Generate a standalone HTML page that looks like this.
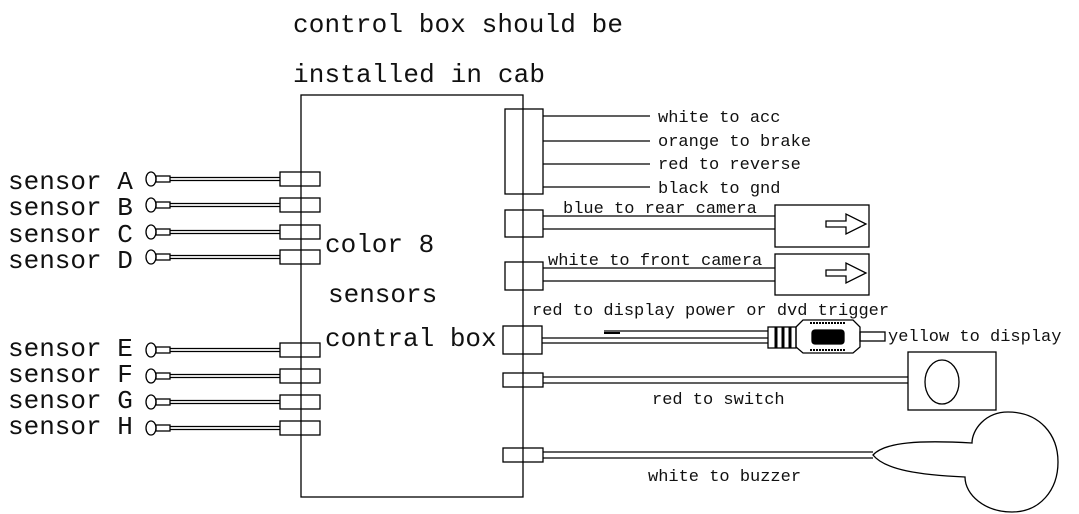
<!DOCTYPE html>
<html><head><meta charset="utf-8"><style>
html,body{margin:0;padding:0;background:#fff;}
svg{display:block}
text{font-family:"Liberation Mono","DejaVu Sans Mono",monospace;fill:#111}
.b{font-size:26px}
.s{font-size:17px}
</style></head><body>
<svg width="1079" height="514" viewBox="0 0 1079 514" xmlns="http://www.w3.org/2000/svg" fill="none" stroke="#000" stroke-width="1.3">
<text class="b" x="293" y="32" stroke="none" textLength="330">control box should be</text>
<text class="b" x="293" y="82" stroke="none" textLength="252">installed in cab</text>
<rect x="301" y="95" width="222" height="402"/>
<text class="b" x="325" y="252" stroke="none">color 8</text>
<text class="b" x="328" y="302" stroke="none">sensors</text>
<text class="b" x="325" y="346" stroke="none">contral box</text>

<g id="sens">
<text class="b" x="8" y="189" stroke="none">sensor A</text>
<text class="b" x="8" y="215" stroke="none">sensor B</text>
<text class="b" x="8" y="242" stroke="none">sensor C</text>
<text class="b" x="8" y="268" stroke="none">sensor D</text>
<text class="b" x="8" y="356" stroke="none">sensor E</text>
<text class="b" x="8" y="382" stroke="none">sensor F</text>
<text class="b" x="8" y="408" stroke="none">sensor G</text>
<text class="b" x="8" y="434" stroke="none">sensor H</text>
</g>
<g>
<!-- sensors -->
<g transform="translate(0,179)"><ellipse cx="151" cy="0" rx="5" ry="7"/><rect x="156" y="-3" width="14" height="6"/><line x1="170" y1="-1.5" x2="280" y2="-1.5"/><line x1="170" y1="1.5" x2="280" y2="1.5"/><rect x="280" y="-7" width="40" height="14"/></g>
<g transform="translate(0,205)"><ellipse cx="151" cy="0" rx="5" ry="7"/><rect x="156" y="-3" width="14" height="6"/><line x1="170" y1="-1.5" x2="280" y2="-1.5"/><line x1="170" y1="1.5" x2="280" y2="1.5"/><rect x="280" y="-7" width="40" height="14"/></g>
<g transform="translate(0,232)"><ellipse cx="151" cy="0" rx="5" ry="7"/><rect x="156" y="-3" width="14" height="6"/><line x1="170" y1="-1.5" x2="280" y2="-1.5"/><line x1="170" y1="1.5" x2="280" y2="1.5"/><rect x="280" y="-7" width="40" height="14"/></g>
<g transform="translate(0,257)"><ellipse cx="151" cy="0" rx="5" ry="7"/><rect x="156" y="-3" width="14" height="6"/><line x1="170" y1="-1.5" x2="280" y2="-1.5"/><line x1="170" y1="1.5" x2="280" y2="1.5"/><rect x="280" y="-7" width="40" height="14"/></g>
<g transform="translate(0,350)"><ellipse cx="151" cy="0" rx="5" ry="7"/><rect x="156" y="-3" width="14" height="6"/><line x1="170" y1="-1.5" x2="280" y2="-1.5"/><line x1="170" y1="1.5" x2="280" y2="1.5"/><rect x="280" y="-7" width="40" height="14"/></g>
<g transform="translate(0,376)"><ellipse cx="151" cy="0" rx="5" ry="7"/><rect x="156" y="-3" width="14" height="6"/><line x1="170" y1="-1.5" x2="280" y2="-1.5"/><line x1="170" y1="1.5" x2="280" y2="1.5"/><rect x="280" y="-7" width="40" height="14"/></g>
<g transform="translate(0,402)"><ellipse cx="151" cy="0" rx="5" ry="7"/><rect x="156" y="-3" width="14" height="6"/><line x1="170" y1="-1.5" x2="280" y2="-1.5"/><line x1="170" y1="1.5" x2="280" y2="1.5"/><rect x="280" y="-7" width="40" height="14"/></g>
<g transform="translate(0,428)"><ellipse cx="151" cy="0" rx="5" ry="7"/><rect x="156" y="-3" width="14" height="6"/><line x1="170" y1="-1.5" x2="280" y2="-1.5"/><line x1="170" y1="1.5" x2="280" y2="1.5"/><rect x="280" y="-7" width="40" height="14"/></g>
</g>

<!-- top right connector -->
<rect x="505" y="109" width="38" height="85"/>
<line x1="543" y1="116" x2="650" y2="116"/>
<line x1="543" y1="141" x2="650" y2="141"/>
<line x1="543" y1="164" x2="650" y2="164"/>
<line x1="543" y1="187" x2="650" y2="187"/>
<text class="s" x="658" y="122" stroke="none">white to acc</text>
<text class="s" x="658" y="146" stroke="none">orange to brake</text>
<text class="s" x="658" y="169" stroke="none">red to reverse</text>
<text class="s" x="658" y="193" stroke="none">black to gnd</text>

<!-- rear camera -->
<rect x="505" y="210" width="38" height="27"/>
<line x1="543" y1="216" x2="775" y2="216"/><line x1="543" y1="229" x2="775" y2="229"/>
<rect x="775" y="205" width="94" height="42"/>
<path d="M826 221 h20 v-7 l20 10 l-20 10 v-7 h-20 z"/>
<text class="s" x="563" y="213" stroke="none">blue to rear camera</text>

<!-- front camera -->
<rect x="505" y="262" width="38" height="28"/>
<line x1="543" y1="268" x2="775" y2="268"/><line x1="543" y1="281" x2="775" y2="281"/>
<rect x="775" y="254" width="94" height="41"/>
<path d="M826 270 h20 v-7 l20 10 l-20 10 v-7 h-20 z"/>
<text class="s" x="548" y="265" stroke="none">white to front camera</text>

<!-- display -->
<text class="s" x="532" y="315" stroke="none">red to display power or dvd trigger</text>
<rect x="503" y="326" width="39" height="28"/>
<line x1="542" y1="338" x2="768" y2="338"/><line x1="542" y1="343" x2="768" y2="343"/>
<line x1="604" y1="331" x2="768" y2="331"/><line x1="604" y1="333" x2="620" y2="333" stroke-width="2"/>
<rect x="768" y="327" width="28" height="21"/>
<line x1="776" y1="327" x2="776" y2="348" stroke-width="3"/>
<line x1="783" y1="327" x2="783" y2="348" stroke-width="3"/>
<line x1="790" y1="327" x2="790" y2="348" stroke-width="3"/>
<path d="M796 327 l7 -7 h50 l7 7 v20 l-7 6 h-50 l-7 -6 z"/>
<rect x="812" y="330" width="32" height="14" rx="3" fill="#000"/>
<line x1="810" y1="323" x2="846" y2="323" stroke-dasharray="2 1" stroke-width="2"/>
<line x1="810" y1="350" x2="846" y2="350" stroke-dasharray="2 1" stroke-width="2"/>
<rect x="860" y="332" width="25" height="9"/>
<text class="s" x="888" y="341" stroke="none">yellow to display</text>

<!-- switch -->
<rect x="503" y="373" width="40" height="14"/>
<line x1="543" y1="377" x2="908" y2="377"/><line x1="543" y1="383" x2="908" y2="383"/>
<rect x="908" y="352" width="88" height="58"/>
<ellipse cx="942" cy="382" rx="17" ry="22"/>
<text class="s" x="652" y="404" stroke="none">red to switch</text>

<!-- buzzer -->
<rect x="503" y="448" width="40" height="14"/>
<line x1="543" y1="452" x2="873" y2="452"/><line x1="543" y1="458" x2="873" y2="458"/>
<path d="M873 455 C885 442 920 440 972 443 C972 430 985 412 1008 412 C1040 412 1058 435 1058 462 C1058 490 1040 512 1012 512 C985 512 965 495 965 477 C920 475 885 470 873 455 Z"/>
<text class="s" x="648" y="481" stroke="none">white to buzzer</text>
</svg>
</body></html>
